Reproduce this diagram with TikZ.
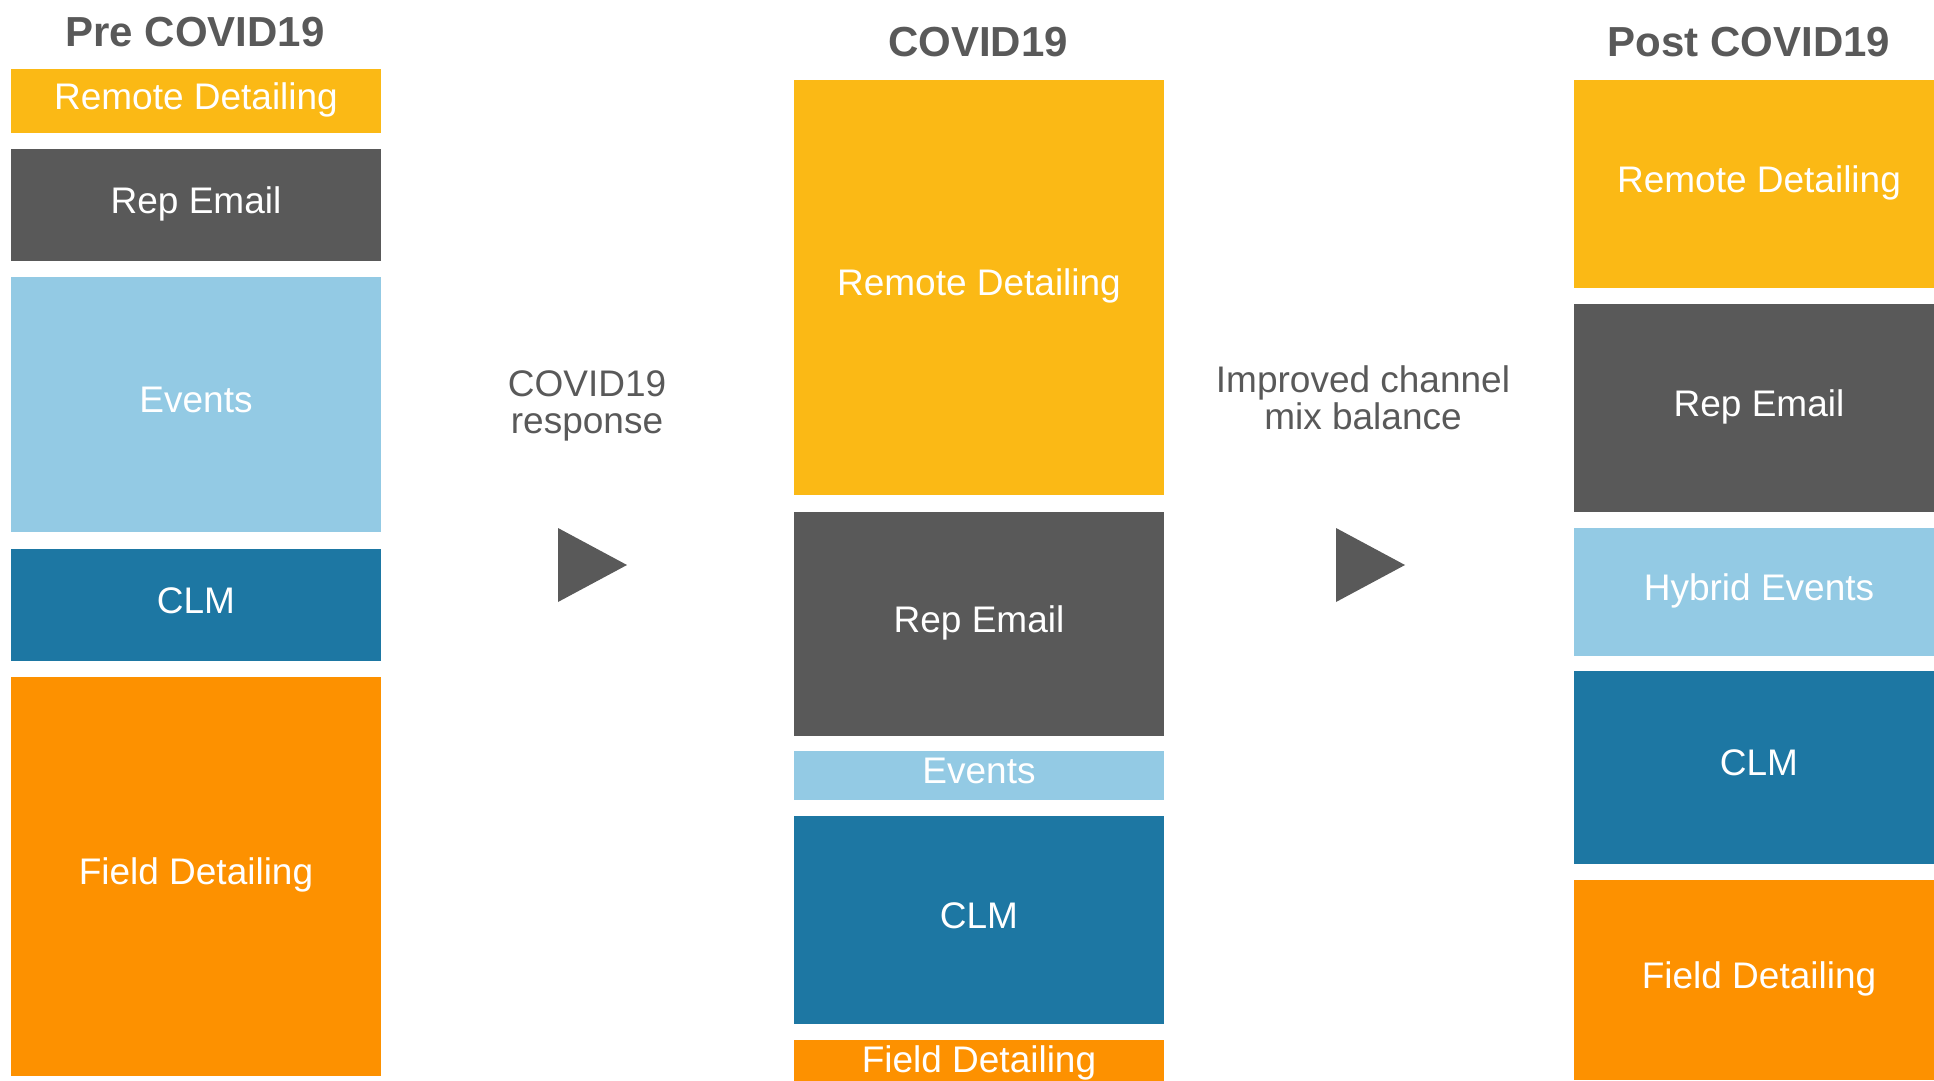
\documentclass[tikz,border=0pt]{standalone}
\usepackage{fontspec}
\setmainfont{Liberation Sans}
\definecolor{cyellow}{HTML}{FBB915}
\definecolor{cdark}{HTML}{595959}
\definecolor{clight}{HTML}{93CAE4}
\definecolor{cteal}{HTML}{1D77A3}
\definecolor{corange}{HTML}{FD9100}
\tikzset{
  box/.style={rectangle, inner sep=0pt, minimum width=185pt, text=white,
    font=\fontsize{18.5}{20}\selectfont, text height=8.4pt, text depth=0pt},
  title/.style={anchor=base, text=cdark, inner sep=0pt, font=\fontsize{21}{24}\selectfont\bfseries},
  side/.style={anchor=base, text=cdark, inner sep=0pt, align=center, font=\fontsize{18.5}{18.5}\selectfont},
  tri/.style={fill=cdark}
}
\begin{document}
\begin{tikzpicture}[x=0.5pt, y=-0.5pt]
\useasboundingbox (0,0) rectangle (1934,1081);
% titles
\node[title] (t1) at (195,47) {Pre COVID19};
\node[title] (t2) at (978,57) {COVID19};
\node[title] (t3) at (1749,57) {Post COVID19};
% left column
\node[box, fill=cyellow, minimum height=32pt] (l1) at (196,101) {Remote Detailing};
\node[box, fill=cdark, minimum height=56pt] (l2) at (196,205) {Rep Email};
\node[box, fill=clight, minimum height=127.5pt] (l3) at (196,404.5) {Events};
\node[box, fill=cteal, minimum height=56pt] (l4) at (196,605) {CLM};
\node[box, fill=corange, minimum height=199.5pt] (l5) at (196,876.5) {Field Detailing};
% middle column
\node[box, fill=cyellow, minimum height=207.5pt] (m1) at (979,287.5) {Remote Detailing};
\node[box, fill=cdark, minimum height=112pt] (m2) at (979,624) {Rep Email};
\node[box, fill=clight, minimum height=24.5pt] (m3) at (979,775.5) {Events};
\node[box, fill=cteal, minimum height=104pt] (m4) at (979,920) {CLM};
\node[box, fill=corange, minimum height=24pt] (m5) at (979,1064) {Field Detailing};
% right column
\node[box, fill=cyellow, minimum height=104pt] (r1) at (1759,184) {Remote Detailing};
\node[box, fill=cdark, minimum height=104pt] (r2) at (1759,408) {Rep Email};
\node[box, fill=clight, minimum height=64pt] (r3) at (1759,592) {Hybrid Events};
\node[box, fill=cteal, minimum height=96.5pt] (r4) at (1759,767.5) {CLM};
\node[box, fill=corange, minimum height=100pt] (r5) at (1759,980) {Field Detailing};
% side labels (base = last line baseline)
\node[side] (s1) at (587,433) {COVID19\\response};
\node[side] (s2) at (1363,429) {Improved channel\\mix balance};
% triangles
\fill[tri] (558,528) -- (627,565) -- (558,602) -- cycle;
\fill[tri] (1336,528) -- (1405,565) -- (1336,602) -- cycle;
\end{tikzpicture}
\end{document}
